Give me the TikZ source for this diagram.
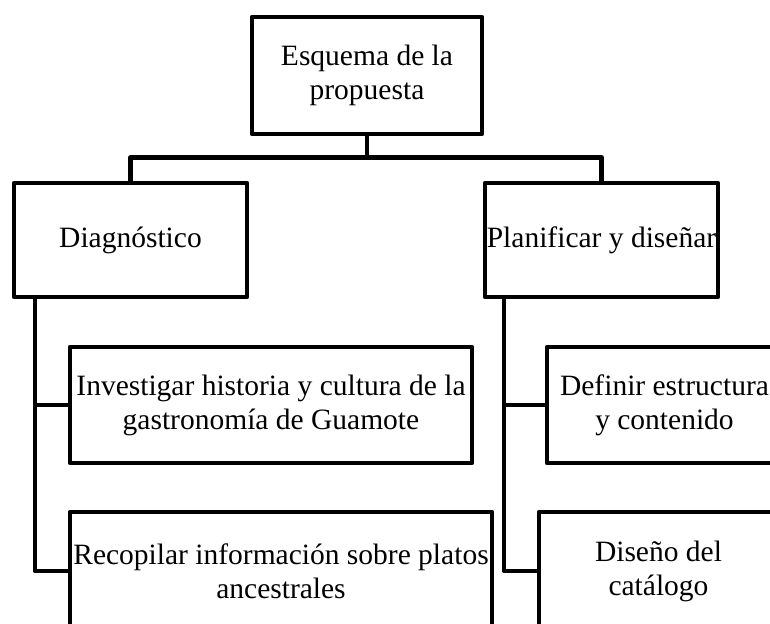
\documentclass[tikz,border=0pt]{standalone}
\usepackage{fontspec}
\setmainfont{Liberation Serif}
\usepackage{tikz}

\begin{document}
\begin{tikzpicture}[x=1pt, y=-1pt,
  box/.style={draw, rectangle, line width=4.5pt, line join=round, align=center, inner sep=0pt},
  link/.style={line width=4.5pt, line join=round}]
  \fontsize{29.5}{34}\selectfont
  \useasboundingbox (0,0) rectangle (770,623);
  \clip (0,0) rectangle (770,623);
  \node[box, minimum width=230pt, minimum height=117pt] (Esquema) at (367,75.5) {Esquema de la\\ propuesta};
  \node[box, minimum width=233pt, minimum height=114pt] (Diagnostico) at (130.5,240) {Diagn\'ostico};
  \node[box, minimum width=233pt, minimum height=114pt] (Planificar) at (601.5,240) {Planificar y dise\~nar};
  \node[box, minimum width=402pt, minimum height=116pt] (Investigar) at (271,405) {Investigar historia y cultura de la\\ gastronom\'ia de Guamote};
  \node[box, minimum width=422pt, minimum height=118pt] (Recopilar) at (281,571) {Recopilar informaci\'on sobre platos\\ ancestrales};
  \node[box, minimum width=235pt, minimum height=116pt] (Definir) at (664.5,405) {Definir estructura\\ y contenido};
  \node[box, minimum width=239pt, minimum height=118pt] (Disenio) at (658.5,571) {Dise\~no del\\ cat\'alogo};
  \draw[link] (Esquema.south) -- ++(0,21) -| (Diagnostico.north);
  \draw[link] (Esquema.south) -- ++(0,21) -| (Planificar.north);
  \draw[link] ([xshift=23pt]Diagnostico.south west) |- (Investigar.west);
  \draw[link] ([xshift=23pt]Diagnostico.south west) |- (Recopilar.west);
  \draw[link] ([xshift=21pt]Planificar.south west) |- (Definir.west);
  \draw[link] ([xshift=21pt]Planificar.south west) |- (Disenio.west);
\end{tikzpicture}
\end{document}
